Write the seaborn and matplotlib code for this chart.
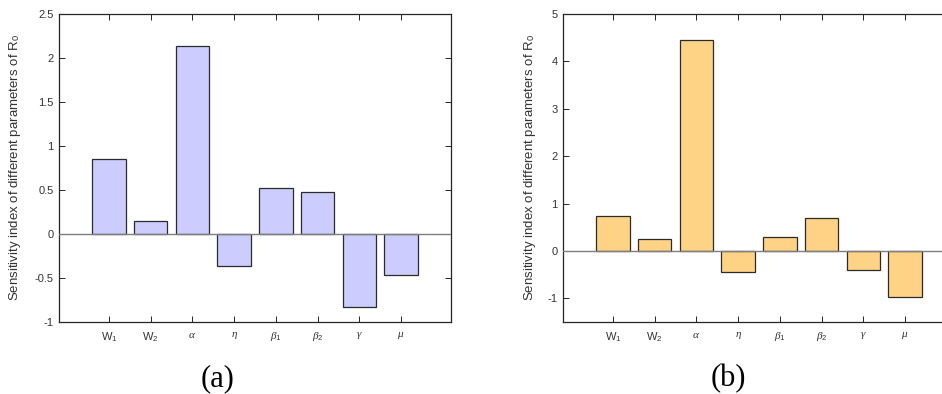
import matplotlib
matplotlib.use("Agg")
import matplotlib.pyplot as plt
import seaborn as sns
import pandas as pd

sns.set_theme(style="white")
plt.rcParams['font.family'] = ['Liberation Sans', 'DejaVu Sans']
plt.rcParams['mathtext.fontset'] = 'custom'
plt.rcParams['mathtext.rm'] = 'Liberation Sans'
plt.rcParams['mathtext.it'] = 'Liberation Serif:italic'
plt.rcParams['mathtext.bf'] = 'Liberation Sans:bold'

params = ["W1", "W2", "alpha", "eta", "beta1", "beta2", "gamma", "mu"]
tick_labels = [r"W$_\mathrm{1}$", r"W$_\mathrm{2}$", r"$\alpha$", r"$\eta$",
               r"$\beta_\mathrm{1}$", r"$\beta_\mathrm{2}$", r"$\gamma$", r"$\mu$"]
values_a = [0.856, 0.144, 2.14, -0.36, 0.52, 0.48, -0.83, -0.47]
values_b = [0.73, 0.26, 4.45, -0.45, 0.29, 0.70, -0.41, -0.98]
yticks_a = [-1, -0.5, 0, 0.5, 1, 1.5, 2, 2.5]
yticks_b = [-1, 0, 1, 2, 3, 4, 5]

W, H = 942, 394
fig = plt.figure(figsize=(W / 100, H / 100), dpi=100)
fig.patch.set_facecolor("white")

ax_a = fig.add_axes([59 / W, (H - 322) / H, 392 / W, 308 / H])
ax_b = fig.add_axes([563 / W, (H - 322) / H, 392 / W, 308 / H])

def draw(ax, vals, color, ylim, yticks, yticklabels, panel, xc, ylab_x):
    df = pd.DataFrame({"param": params, "value": vals})
    sns.barplot(data=df, x="param", y="value", order=params, color=color,
                saturation=1, width=0.8, edgecolor="#2b2b2b", linewidth=0.9,
                ax=ax)
    ax.axhline(0, color="#7f7f7f", linewidth=1.0, zorder=3)
    ax.set_xlim(-1.2, 8.2)
    ax.set_ylim(*ylim)
    ax.set_yticks(yticks)
    ax.set_yticklabels(yticklabels)
    ax.set_xticks(range(len(params)))
    ax.set_xticklabels(tick_labels)
    ax.set_xlabel("")
    ax.set_ylabel(r"Sensitivity index of different parameters of R$_\mathrm{0}$",
                  fontsize=9.5, color="#333333")
    ax.yaxis.set_label_coords((ylab_x - ax.get_position().x0 * W) / 392, 0.5)
    ax.tick_params(axis="both", which="both", direction="in", length=4,
                   width=0.7, colors="#262626", labelsize=8,
                   top=True, right=True, bottom=True, left=True)
    ax.tick_params(axis="x", pad=6, labelcolor="#333333")
    ax.tick_params(axis="y", pad=4, labelcolor="#333333")
    for s in ax.spines.values():
        s.set_visible(True)
        s.set_color("#262626")
        s.set_linewidth(0.9)
    fig.text(xc / W, 1 - 379 / H, panel, ha="center", va="center",
             fontsize=22, family="Liberation Serif", color="black")

draw(ax_a, values_a, "#CCCCFF", (-1, 2.5), yticks_a,
     ["-1", "-0.5", "0", "0.5", "1", "1.5", "2", "2.5"], "(a)", 218, 23)
draw(ax_b, values_b, "#FED385", (-1.5, 5), yticks_b,
     ["-1", "0", "1", "2", "3", "4", "5"], "(b)", 728, 538)

fig.savefig("out.png", dpi=100)
